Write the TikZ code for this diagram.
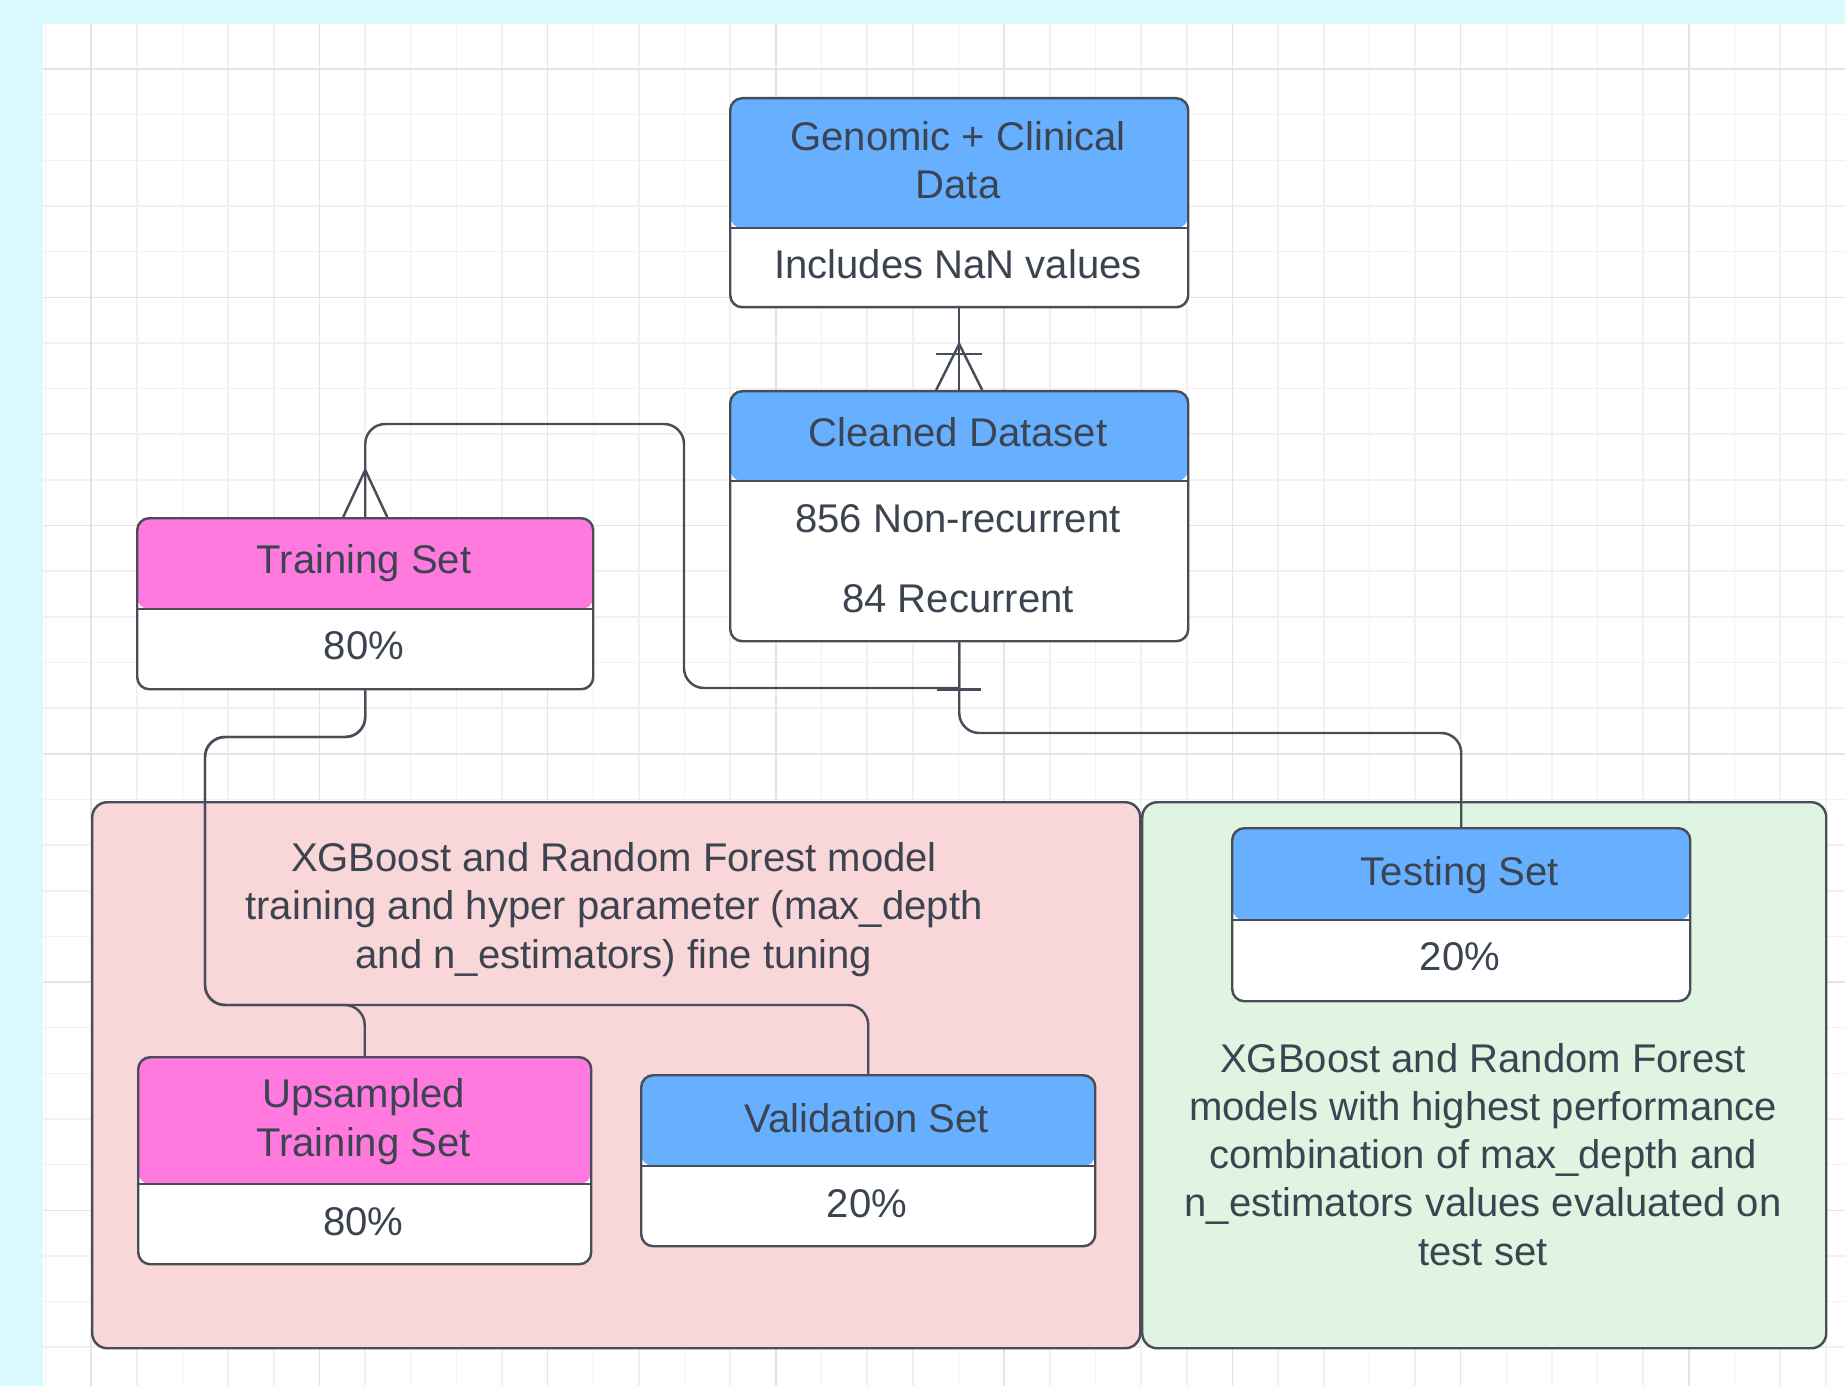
\documentclass[tikz,border=0pt]{standalone}
\usepackage{fontspec}
\setmainfont{Liberation Sans}
\definecolor{canvas}{HTML}{D9FAFF}
\definecolor{gridminor}{HTML}{F1F1F1}
\definecolor{gridmajor}{HTML}{E4E4E4}
\definecolor{edge}{HTML}{474E59}
\definecolor{ink}{HTML}{3D4451}
\definecolor{headblue}{HTML}{66B0FF}
\definecolor{headpink}{HTML}{FF79DE}
\definecolor{tunepink}{HTML}{F9D6D7}
\definecolor{evalgreen}{HTML}{E0F5E1}
\begin{document}
\begin{tikzpicture}[y=-1cm,
		every node/.style={font=\fontsize{11.4}{13.7}\selectfont, text=ink, align=center},
		entity/.style n args={4}{draw=edge, line width=0.7pt, fill=white,
			rounded corners=0.12cm, anchor=north west, inner sep=0pt,
			minimum width=#1cm, minimum height=#2cm,
			path picture={
				\fill[#4] (path picture bounding box.north west) rectangle ([yshift=-#3cm]path picture bounding box.north east);
				\draw[edge, line width=0.7pt] ([yshift=-#3cm]path picture bounding box.north west) -- ([yshift=-#3cm]path picture bounding box.north east);}},
		panel/.style={draw=edge, line width=0.7pt, fill=#1, rounded corners=0.15cm,
			anchor=north west, inner sep=0pt},
		conn/.style={draw=edge, line width=0.7pt},
		lbl/.style={anchor=base, inner sep=0pt}]
	\useasboundingbox (0,0) rectangle (18.45,13.86);
	% canvas and grid
	\fill[canvas] (0,0) rectangle (18.45,13.86);
	\fill[white] (0.43,0.23) rectangle (18.45,13.86);
	\foreach \i in {0,...,39}
		\draw[gridminor, line width=0.45pt] (0.455+\i*0.4565,0.23) -- (0.455+\i*0.4565,13.86);
	\foreach \j in {0,...,29}
		\draw[gridminor, line width=0.45pt] (0.43,0.234+\j*0.4565) -- (18.45,0.234+\j*0.4565);
	\foreach \i in {1,6,...,36}
		\draw[gridmajor, line width=0.45pt] (0.455+\i*0.4565,0.23) -- (0.455+\i*0.4565,13.86);
	\foreach \j in {1,6,...,26}
		\draw[gridmajor, line width=0.45pt] (0.43,0.234+\j*0.4565) -- (18.45,0.234+\j*0.4565);

	% panels
	\node[panel=tunepink, minimum width=10.48cm, minimum height=5.46cm] (tune) at (0.91,8.01) {};
	\node[panel=evalgreen, minimum width=6.84cm, minimum height=5.46cm] (evalp) at (11.41,8.01) {};
	\node[lbl] (tune-text) at (6.14,9.68) {XGBoost and Random Forest model\\training and hyper parameter (max\_depth\\and n\_estimators) fine tuning};
	\node[lbl] (eval-text) at (14.83,12.65) {XGBoost and Random Forest\\models with highest performance\\combination of max\_depth and\\n\_estimators values evaluated on\\test set};

	% entities
	\node[entity={4.58}{2.09}{1.30}{headblue}] (gen) at (7.29,0.97) {};
	\node[lbl] (gen-title) at (9.58,1.99) {Genomic + Clinical\\Data};
	\node[lbl] (gen-body) at (9.58,2.79) {Includes NaN values};

	\node[entity={4.58}{2.50}{0.90}{headblue}] (clean) at (7.29,3.90) {};
	\node[lbl] (clean-title) at (9.58,4.47) {Cleaned Dataset};
	\node[lbl] (clean-a) at (9.58,5.32) {856 Non-recurrent};
	\node[lbl] (clean-b) at (9.58,6.12) {84 Recurrent};

	\node[entity={4.56}{1.71}{0.91}{headpink}] (train) at (1.36,5.17) {};
	\node[lbl] (train-title) at (3.64,5.73) {Training Set};
	\node[lbl] (train-val) at (3.64,6.59) {80\%};

	\node[entity={4.58}{1.73}{0.92}{headblue}] (test) at (12.31,8.27) {};
	\node[lbl] (test-title) at (14.60,8.85) {Testing Set};
	\node[lbl] (test-val) at (14.60,9.70) {20\%};

	\node[entity={4.53}{2.07}{1.27}{headpink}] (up) at (1.37,10.56) {};
	\node[lbl] (up-title) at (3.635,11.56) {Upsampled\\Training Set};
	\node[lbl] (up-val) at (3.635,12.35) {80\%};

	\node[entity={4.54}{1.71}{0.91}{headblue}] (valid) at (6.40,10.74) {};
	\node[lbl] (valid-title) at (8.67,11.32) {Validation Set};
	\node[lbl] (valid-val) at (8.67,12.17) {20\%};

	% cleaning
	\draw[conn] (gen.south) -- (clean.north);
	\draw[conn] ([xshift=-0.23cm]clean.north) -- ([yshift=0.46cm]clean.north) -- ([xshift=0.23cm]clean.north);
	\draw[conn] ([shift={(-0.23cm,0.36cm)}]clean.north) -- ++(0.46cm,0);

	% train / test split
	\draw[conn] (clean.south) -- (clean.south |- 0,6.88) [rounded corners=0.2cm] -- (6.84,6.88) -- (6.84,4.24) -| (train.north);
	\draw[conn] ([shift={(-0.22cm,-0.47cm)}]clean.south) -- ++(0.44cm,0);
	\draw[conn] ([xshift=-0.22cm]train.north) -- ([yshift=0.47cm]train.north) -- ([xshift=0.22cm]train.north);
	\draw[conn, rounded corners=0.2cm] (clean.south) |- (test.north |- 0,7.33) -- (test.north);

	% upsampling and validation
	\draw[conn, rounded corners=0.2cm] (train.south) |- (2.05,7.37) |- (up.north |- 0,10.05) -- (up.north);
	\draw[conn, rounded corners=0.2cm] (train.south) |- (2.05,7.37) |- (valid.north |- 0,10.05) -- (valid.north);
\end{tikzpicture}
\end{document}
